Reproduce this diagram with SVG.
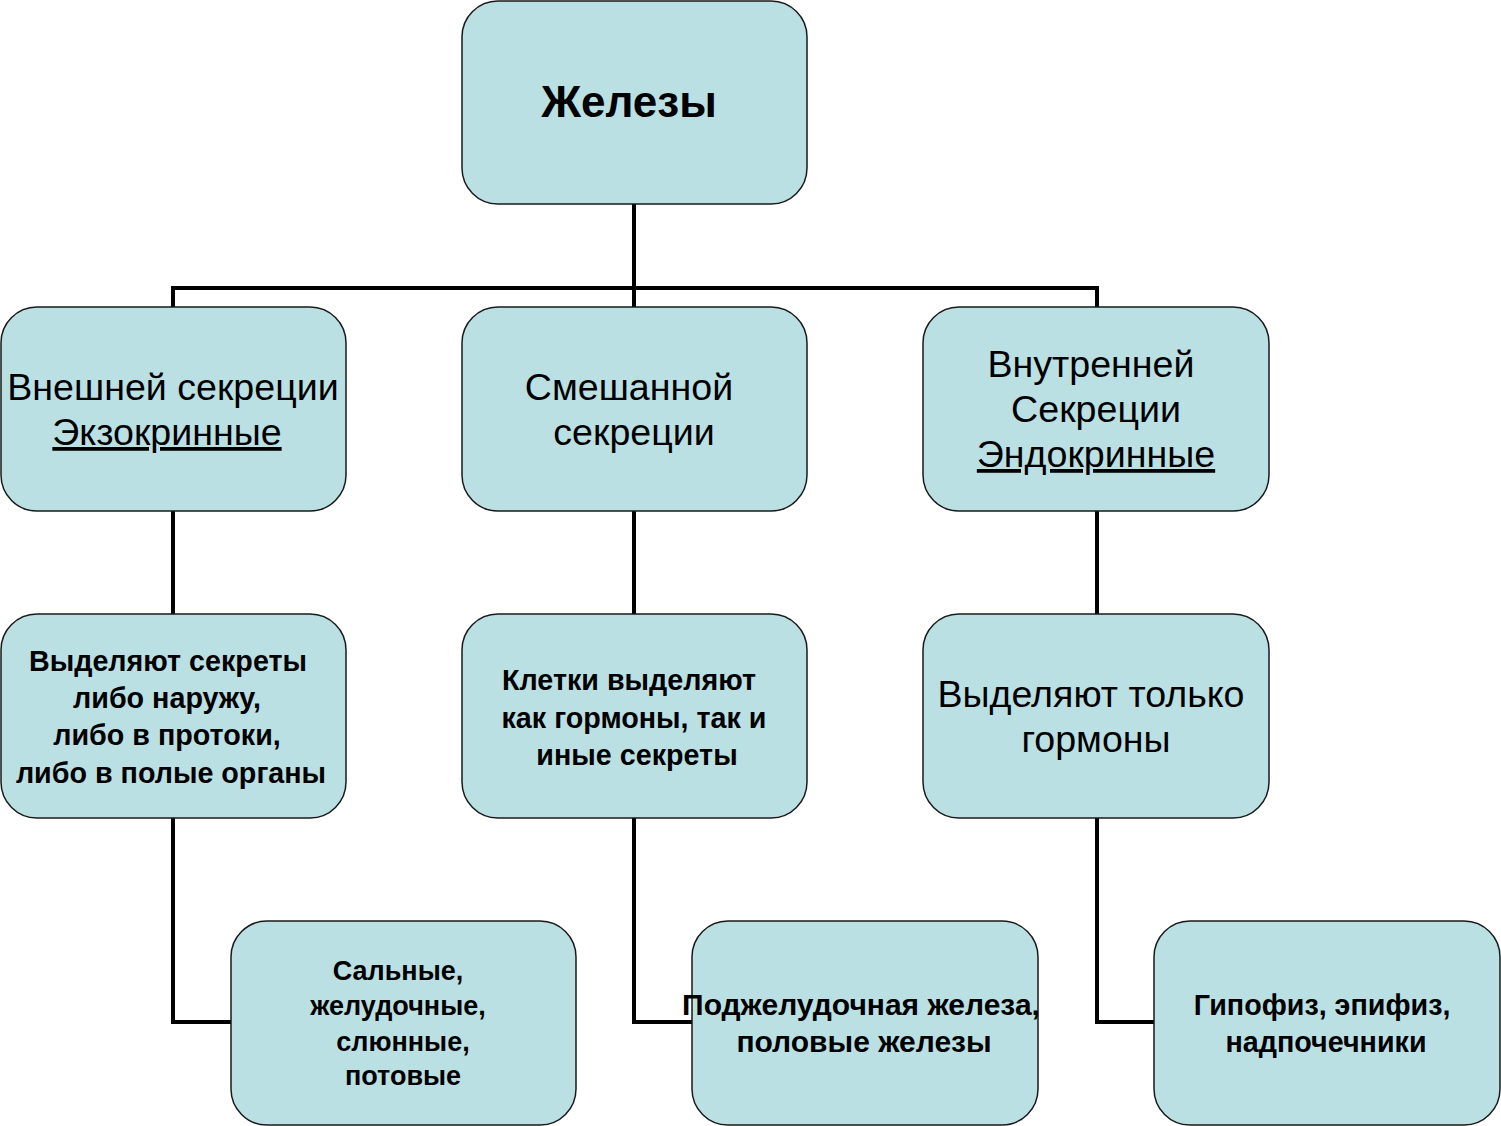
<svg xmlns="http://www.w3.org/2000/svg" width="1501" height="1126" viewBox="0 0 1501 1126">
<style>
.box{fill:#BBE0E3;stroke:#1a1a1a;stroke-width:1.5}
.con{fill:none;stroke:#000;stroke-width:4}
text{font-family:"Liberation Sans",Arial,sans-serif;fill:#000;text-anchor:middle}
.r{font-size:37.6px}
.b{font-size:28.7px;font-weight:bold}
.b27{font-size:27px;font-weight:bold}
.b30{font-size:30px;font-weight:bold}
.t{font-size:44px;font-weight:bold}
.u{text-decoration:underline}
</style>
<rect width="1501" height="1126" fill="#fff"/>
<g id="connectors">
<path class="con" d="M634 204V614"/>
<path class="con" d="M173 307V288H1097V307"/>
<path class="con" d="M173 511V614"/>
<path class="con" d="M1097 511V614"/>
<path class="con" d="M173 818V1022H231"/>
<path class="con" d="M634 818V1022H692"/>
<path class="con" d="M1097 818V1022H1154"/>
</g>
<g id="n-zhelezy"><rect class="box" x="462" y="1" width="345" height="203" rx="36"/><text class="t" x="629" y="117">Железы</text></g>
<g id="n-exo"><rect class="box" x="1" y="307" width="345" height="204" rx="36"/><text class="r" x="173" y="400">Внешней секреции</text><text class="r u" x="167" y="445">Экзокринные</text></g>
<g id="n-mixed"><rect class="box" x="462" y="307" width="345" height="204" rx="36"/><text class="r" x="629" y="400">Смешанной</text><text class="r" x="634" y="445">секреции</text></g>
<g id="n-endo"><rect class="box" x="923" y="307" width="346" height="204" rx="36"/><text class="r" x="1091" y="377">Внутренней</text><text class="r" x="1096" y="422">Секреции</text><text class="r u" x="1096" y="467">Эндокринные</text></g>
<g id="n-exo-desc"><rect class="box" x="1" y="614" width="345" height="204" rx="36"/><text class="b" x="168" y="671">Выделяют секреты</text><text class="b" x="167" y="708">либо наружу,</text><text class="b" x="167" y="745">либо в протоки,</text><text class="b" x="171" y="783">либо в полые органы</text></g>
<g id="n-mixed-desc"><rect class="box" x="462" y="614" width="345" height="204" rx="36"/><text class="b" x="629" y="690">Клетки выделяют</text><text class="b" x="634" y="728">как гормоны, так и</text><text class="b" x="637" y="765">иные секреты</text></g>
<g id="n-endo-desc"><rect class="box" x="923" y="614" width="346" height="204" rx="36"/><text class="r" x="1091" y="707">Выделяют только</text><text class="r" x="1096" y="752">гормоны</text></g>
<g id="n-exo-ex"><rect class="box" x="231" y="921" width="345" height="204" rx="36"/><text class="b27" x="398" y="980">Сальные,</text><text class="b27" x="398" y="1015">желудочные,</text><text class="b27" x="403" y="1051">слюнные,</text><text class="b27" x="403" y="1085">потовые</text></g>
<g id="n-mixed-ex"><rect class="box" x="692" y="921" width="346" height="204" rx="36"/><text class="b30" x="861" y="1015">Поджелудочная железа,</text><text class="b30" x="864" y="1052">половые железы</text></g>
<g id="n-endo-ex"><rect class="box" x="1154" y="921" width="346" height="204" rx="36"/><text class="b" x="1322" y="1015">Гипофиз, эпифиз,</text><text class="b" x="1326" y="1052">надпочечники</text></g>
</svg>
